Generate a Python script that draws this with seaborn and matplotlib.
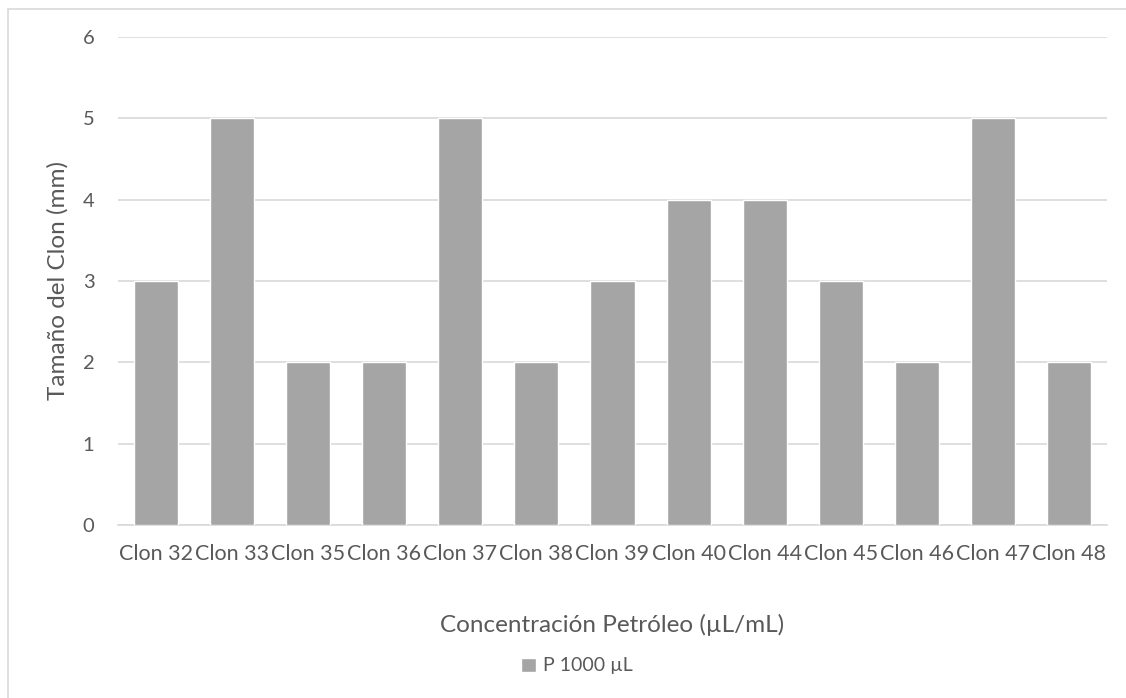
import matplotlib
matplotlib.use("Agg")
import matplotlib.pyplot as plt
import seaborn as sns
import pandas as pd
from matplotlib.patches import Rectangle, Patch

clones = ["Clon 32", "Clon 33", "Clon 35", "Clon 36", "Clon 37", "Clon 38", "Clon 39",
          "Clon 40", "Clon 44", "Clon 45", "Clon 46", "Clon 47", "Clon 48"]
sizes = [3, 5, 2, 2, 5, 2, 3, 4, 4, 3, 2, 5, 2]
series_name = "P 1000 µL"
y_ticks = [0, 1, 2, 3, 4, 5, 6]

df = pd.DataFrame({"clon": clones, "size": sizes})

sns.set_theme(style="white")
plt.rcParams["font.family"] = ["Lato", "DejaVu Sans"]

W, H = 1126, 698
fig = plt.figure(figsize=(W / 100, H / 100), dpi=100)
ax = fig.add_axes([118 / W, 1 - 525 / H, (1107 - 118) / W, (525 - 37) / H])

bar_color = "#a5a5a5"
text_color = "#595959"
grid_color = "#d9d9d9"

sns.barplot(data=df, x="clon", y="size", color=bar_color, width=0.58,
            saturation=1, ax=ax, zorder=3)

ax.set_ylim(0, 6)
ax.set_yticks(y_ticks)
ax.yaxis.grid(True, color=grid_color, linewidth=1.2, zorder=0)
ax.xaxis.grid(False)
for s in ["top", "right", "left"]:
    ax.spines[s].set_visible(False)
ax.spines["bottom"].set_color(grid_color)
ax.spines["bottom"].set_linewidth(1.2)
ax.tick_params(axis="both", length=0, colors=text_color)
ax.tick_params(axis="x", pad=14, labelsize=15.5)
ax.tick_params(axis="y", pad=17, labelsize=14.5)

ax.set_xlabel("Concentración Petróleo (µL/mL)", fontsize=17.5, color=text_color)
ax.set_ylabel("Tamaño del Clon (mm)", fontsize=17.5, color=text_color)
ax.xaxis.set_label_coords(0.5, -0.182)
ax.yaxis.set_label_coords(-0.05, 0.5)

leg = fig.legend(handles=[Patch(facecolor=bar_color, label=series_name)],
                 loc="center", bbox_to_anchor=(577 / W, 1 - 666 / H), frameon=False,
                 fontsize=14, handlelength=0.75, handleheight=0.75, handletextpad=0.4)
for t in leg.get_texts():
    t.set_color(text_color)

# chart area frame
fig.patches.append(Rectangle((8 / W, -0.1), 1.2, 1 - 9 / H + 0.1, transform=fig.transFigure,
                             fill=False, edgecolor="#d9d9d9", linewidth=1.2))

fig.savefig("out.png", dpi=100, facecolor="white")
